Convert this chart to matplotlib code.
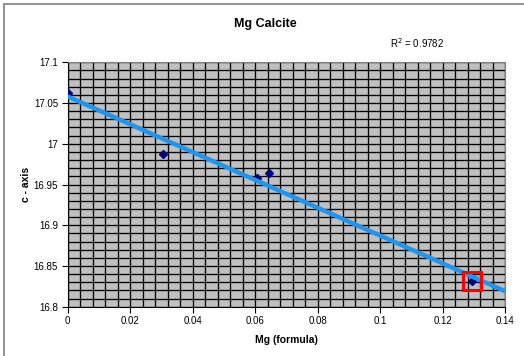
import numpy as np
import matplotlib
matplotlib.use("Agg")
import matplotlib.pyplot as plt
from matplotlib.ticker import MultipleLocator
from matplotlib.patches import Rectangle

plt.rcParams['font.family'] = ['Liberation Sans', 'DejaVu Sans']

# Mg content (formula units) and measured c-axis length
mg_formula = [0.0, 0.0305, 0.0606, 0.0645, 0.1293]
c_axis = [17.062, 16.988, 16.958, 16.964, 16.832]
highlight_index = 4
r2_label = "R$^2$ = 0.9782"

x = np.array(mg_formula)
y = np.array(c_axis)
slope, intercept = np.polyfit(x, y, 1)

fig = plt.figure(figsize=(5.24, 3.56), dpi=100)
ax = fig.add_axes([67.7 / 524, 1 - 306.7 / 356, (505 - 67.7) / 524, (306.7 - 62.3) / 356])
ax.set_facecolor('#c0c0c0')

ax.set_xlim(0, 0.14)
ax.set_ylim(16.8, 17.1)
ax.xaxis.set_major_locator(MultipleLocator(0.02))
ax.xaxis.set_minor_locator(MultipleLocator(0.004))
ax.yaxis.set_major_locator(MultipleLocator(0.05))
ax.yaxis.set_minor_locator(MultipleLocator(0.01))
ax.xaxis.set_major_formatter(plt.FuncFormatter(lambda v, p: f"{v:g}"))
ax.yaxis.set_major_formatter(plt.FuncFormatter(lambda v, p: f"{round(v, 2):g}"))

ax.grid(True, which='both', color='black', linewidth=0.95)
ax.set_axisbelow(True)
ax.tick_params(which='major', direction='out', length=4, width=0.8, labelsize=7, pad=3, colors='black')
ax.tick_params(which='minor', length=0)
for side in ('top', 'right'):
    ax.spines[side].set_color('#808080')
for side in ('left', 'bottom'):
    ax.spines[side].set_color('black')

# Data points
ax.plot(x, y, linestyle='none', marker='D', markersize=3.8, color='#000080', zorder=3)

# Linear trendline
xt = np.array([0.0, 0.14])
ax.plot(xt, slope * xt + intercept, color='#1e96f0', linewidth=3.2, solid_capstyle='butt', zorder=4)

# Highlighted sample
ax.plot(x[highlight_index], y[highlight_index], marker='s', markersize=12.5,
        markerfacecolor='none', markeredgecolor='#ff0000', markeredgewidth=2.2, zorder=5)

ax.set_xlabel('Mg (formula)', fontsize=7.5, fontweight='bold', labelpad=6)
ax.set_ylabel('c - axis', fontsize=7.5, fontweight='bold', labelpad=2)

fig.text(265 / 524, 1 - 24 / 356, 'Mg Calcite', ha='center', va='center', fontsize=9, fontweight='bold')
fig.text(417 / 524, 1 - 43 / 356, r2_label, ha='center', va='center', fontsize=7)

# Chart area frame
fig.patches.append(Rectangle((4 / 524, -0.1), 1.2, 1 - 4 / 356 + 0.1, transform=fig.transFigure,
                             fill=False, edgecolor='#808080', linewidth=1.2))

fig.savefig('out.png', dpi=100)
